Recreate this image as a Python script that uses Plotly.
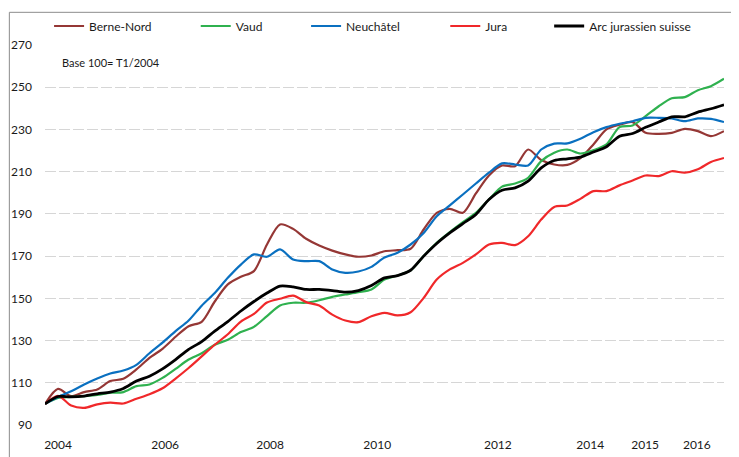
import plotly.graph_objects as go

# Quarterly index values, base 100 = T1/2004 (T1/2004 .. T1/2017)
quarters = [2004 + i / 4 for i in range(53)]

berne_nord = [100, 107.1, 103.7, 105.6, 106.8, 110.8, 111.9, 116.3, 121.8, 126.1,
              131.8, 136.8, 138.9, 148.5, 156.6, 160.2, 162.9, 175.5, 185.0, 182.9,
              178.2, 175.0, 172.6, 170.8, 169.7, 170.3, 172.3, 172.8, 173.5, 182.6,
              190.5, 192.4, 190.5, 199.7, 208.2, 212.9, 212.6, 220.5, 215.5, 213.4,
              213.2, 216.4, 222.9, 230.0, 232.2, 233.5, 228.4, 227.9, 228.4, 230.3,
              229.2, 226.8, 229.2]

vaud = [100, 102.8, 103.3, 103.7, 104.2, 105.3, 105.6, 108.4, 109.2, 112.3,
        116.6, 121.0, 124.0, 128.0, 130.4, 134.0, 136.5, 141.6, 146.6, 147.9,
        147.9, 149.1, 150.7, 151.8, 152.9, 154.2, 158.9, 160.8, 163.3, 170.0,
        176.3, 181.4, 186.1, 190.5, 196.8, 202.9, 204.4, 207.1, 215.0, 219.0,
        220.5, 218.6, 220.2, 222.9, 231.1, 231.9, 236.3, 241.0, 244.8, 245.3,
        248.6, 250.5, 254.0]

neuchatel = [100, 103.3, 106.0, 109.2, 112.0, 114.4, 115.8, 118.5, 124.0, 129.0,
             134.5, 139.5, 146.5, 152.5, 159.7, 166.0, 170.8, 169.7, 173.2, 168.4,
             167.6, 167.6, 163.7, 162.1, 162.7, 164.9, 169.3, 171.6, 175.5, 181.0,
             188.9, 194.0, 199.2, 204.4, 209.5, 213.9, 213.4, 212.9, 220.5, 223.3,
             223.4, 225.6, 228.7, 231.1, 232.7, 233.9, 235.5, 235.5, 235.2, 233.9,
             235.2, 235.0, 233.5]

jura = [100, 103.8, 99.2, 98.1, 99.8, 100.6, 100.2, 102.4, 104.6, 107.4,
        112.0, 117.0, 122.5, 128.0, 133.0, 139.0, 142.6, 148.0, 149.8, 151.3,
        148.2, 146.6, 142.3, 139.5, 138.7, 141.5, 143.1, 141.9, 143.4, 150.2,
        158.9, 163.7, 166.8, 170.8, 175.5, 176.3, 175.2, 179.4, 187.3, 193.3,
        194.0, 197.1, 200.8, 200.8, 203.5, 205.8, 208.2, 207.9, 210.2, 209.5,
        211.1, 214.6, 216.5]

arc_jurassien = [100, 103.5, 103.3, 103.7, 104.8, 105.6, 107.3, 110.8, 113.1, 116.6,
                 121.0, 125.8, 129.5, 134.5, 139.0, 144.0, 148.5, 152.5, 155.8, 155.4,
                 154.2, 154.2, 153.7, 152.9, 153.7, 156.1, 159.7, 160.8, 163.3, 170.0,
                 176.0, 181.0, 185.4, 189.7, 196.8, 201.2, 202.3, 205.5, 211.8, 215.3,
                 216.1, 216.9, 219.3, 221.8, 226.8, 228.1, 231.0, 233.5, 236.0, 236.0,
                 238.2, 239.8, 241.7]

series_names = ["Berne-Nord", "Vaud", "Neuchâtel", "Jura", "Arc jurassien suisse"]
series_values = [berne_nord, vaud, neuchatel, jura, arc_jurassien]
series_colors = ["#953735", "#2fb14f", "#0a70c0", "#f0282a", "#000000"]
series_widths = [2.2, 2.2, 2.2, 2.2, 2.8]

x_tick_labels = ["2004", "2006", "2008", "2010", "2012", "2014", "2015", "2016"]
x_tick_positions = [2004.25, 2006.30, 2008.31, 2010.36, 2012.67, 2014.44, 2015.49, 2016.48]
y_tick_values = [90, 110, 130, 150, 170, 190, 210, 230, 250, 270]

FONT = "Lato, 'Open Sans', sans-serif"

# legend positions (paper x) for each separate legend
legend_x = [0.0060, 0.2220, 0.3845, 0.5895, 0.7425]
legend_keys = ["legend", "legend2", "legend3", "legend4", "legend5"]

fig = go.Figure()
for name, vals, col, w, lk in zip(series_names, series_values, series_colors,
                                  series_widths, legend_keys):
    fig.add_trace(go.Scatter(
        x=quarters, y=vals, name=name, mode="lines",
        line=dict(color=col, width=w, shape="spline", smoothing=0.8),
        legend=lk, hoverinfo="x+y+name",
    ))

layout_legends = {}
for lk, lx in zip(legend_keys, legend_x):
    layout_legends[lk] = dict(
        x=lx, y=1.05, xanchor="left", yanchor="middle",
        orientation="h", bgcolor="rgba(0,0,0,0)",
        font=dict(family=FONT, size=12, color="#1a1a1a"),
        itemwidth=30,
    )

# The page body has an 8px default margin; the figure is sized to fill the
# remaining 731x449 of the 739x457 window.
fig.update_layout(
    width=731, height=449,
    margin=dict(l=37, r=15, t=37, b=32, autoexpand=False),
    paper_bgcolor="white", plot_bgcolor="white",
    font=dict(family=FONT, size=12, color="#1a1a1a"),
    showlegend=True,
    **layout_legends,
    xaxis=dict(
        range=[2004, 2017], showgrid=False, zeroline=False, showline=False,
        tickmode="array", tickvals=x_tick_positions, ticktext=x_tick_labels,
        ticks="", tickfont=dict(family=FONT, size=12, color="#1a1a1a"),
        ticklabelstandoff=11, automargin=False,
    ),
    yaxis=dict(
        range=[90, 270], tickmode="array", tickvals=y_tick_values,
        showgrid=True, gridcolor="#d6d6d6", gridwidth=1, griddash="11px,3px",
        zeroline=False, showline=False, ticks="",
        tickfont=dict(family=FONT, size=12, color="#1a1a1a"),
        ticklabelstandoff=12, automargin=False,
    ),
    annotations=[dict(
        text="Base 100= T1/2004", xref="paper", yref="paper",
        x=0.0221, y=0.955, xanchor="left", yanchor="middle",
        showarrow=False, font=dict(family=FONT, size=11, color="#1a1a1a"),
    )],
    shapes=[dict(
        type="rect", xref="paper", yref="paper",
        x0=-0.0525, x1=1.04, y0=-0.13, y1=1.086,
        line=dict(color="#8c8c8c", width=1), fillcolor="rgba(0,0,0,0)",
        layer="below",
    )],
)

fig.write_html("out.html")
